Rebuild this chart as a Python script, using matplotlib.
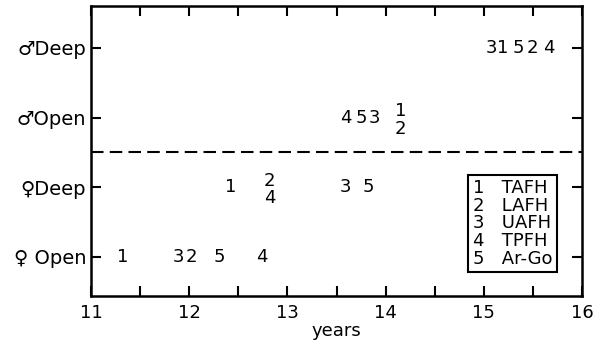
import matplotlib.pyplot as plt
from matplotlib.ticker import MultipleLocator

plt.rcParams['font.family'] = ['DejaVu Sans']

# groups (row on the y axis) and ages in years at which each measure peaks
rows = ['\u2640 Open', '\u2640Deep', '\u2642Open', '\u2642Deep']
measures = ['1', '2', '3', '4', '5']
legend_names = ['TAFH', 'LAFH', 'UAFH', 'TPFH', 'Ar-Go']

f_open = [11.32, 12.02, 11.89, 12.74, 12.31]
f_deep = [12.42, 12.82, 13.59, 12.82, 13.82]
m_open = [14.15, 14.15, 13.89, 13.59, 13.75]
m_deep = [15.19, 15.49, 15.08, 15.66, 15.35]

fig = plt.figure(figsize=(5.93, 3.47), dpi=100)
ax = fig.add_axes([91/593, 1 - 296/347, 491/593, 290/347])

for yrow, ages in enumerate([f_open, f_deep, m_open, m_deep], start=1):
    # stack labels that fall at the same age
    seen = {}
    for lab, age in zip(measures, ages):
        seen.setdefault(age, []).append(lab)
    for age, labs in seen.items():
        if len(labs) == 1:
            ax.text(age, yrow, labs[0], ha='center', va='center', fontsize=13)
        else:
            ax.text(age, yrow + 0.09, labs[0], ha='center', va='center', fontsize=13)
            ax.text(age, yrow - 0.16, labs[1], ha='center', va='center', fontsize=13)

ax.axhline(2.5, color='black', lw=1.5, ls=(0, (6, 3)))

ax.set_xlim(11, 16)
ax.set_ylim(0.44, 4.6)
ax.xaxis.set_major_locator(MultipleLocator(1))
ax.xaxis.set_minor_locator(MultipleLocator(0.5))
ax.set_yticks([1, 2, 3, 4])
ax.set_yticklabels(rows, fontsize=14)
ax.tick_params(axis='both', which='both', direction='in', top=True, right=True,
               length=7, width=1.5)
ax.tick_params(axis='x', labelsize=13, pad=6)
for s in ax.spines.values():
    s.set_linewidth(1.8)
ax.set_xlabel('years', fontsize=13, labelpad=0)

# key to the measure numbers
key = '\n'.join(f'{m}   {n}' for m, n in zip(measures, legend_names))
ax.text(14.89, 1.48, key, ha='left', va='center', fontsize=13, linespacing=0.97,
        bbox=dict(boxstyle='square,pad=0.25', fc='white', ec='black', lw=1.5))

fig.savefig('out.png', dpi=100)
